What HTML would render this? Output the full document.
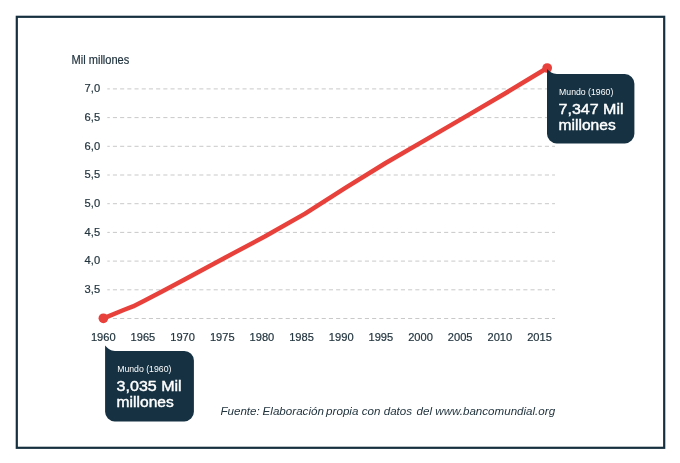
<!DOCTYPE html>
<html lang="es"><head><meta charset="utf-8"><title>Población mundial</title>
<style>
html,body{margin:0;padding:0;background:#fff;}
body{width:680px;height:463px;overflow:hidden;font-family:"Liberation Sans",sans-serif;}
svg{display:block;will-change:transform}
text{font-family:"Liberation Sans",sans-serif;}
.t{fill:#23353f;font-size:11.5px;stroke:#23353f;stroke-width:0.2px}
.w{fill:#fff}
</style></head><body>
<svg width="680" height="463" viewBox="0 0 680 463">
<rect x="0" y="0" width="680" height="463" fill="#fff"/>
<rect x="16.8" y="16.8" width="647.4" height="431" fill="none" stroke="#16303f" stroke-width="2.2"/>
<text class="t" style="font-size:12px" x="71.5" y="63.7" textLength="57.8" lengthAdjust="spacingAndGlyphs">Mil millones</text>
<line x1="107.3" y1="88.90" x2="555" y2="88.90" stroke="#c9c9c9" stroke-width="1" stroke-dasharray="4.1 3.1" stroke-dashoffset="1.6"/>
<text class="t" x="84.6" y="92.10" textLength="15.5" lengthAdjust="spacingAndGlyphs">7,0</text>
<line x1="107.3" y1="117.60" x2="555" y2="117.60" stroke="#c9c9c9" stroke-width="1" stroke-dasharray="4.1 3.1" stroke-dashoffset="1.6"/>
<text class="t" x="84.6" y="120.80" textLength="15.5" lengthAdjust="spacingAndGlyphs">6,5</text>
<line x1="107.3" y1="146.30" x2="555" y2="146.30" stroke="#c9c9c9" stroke-width="1" stroke-dasharray="4.1 3.1" stroke-dashoffset="1.6"/>
<text class="t" x="84.6" y="149.50" textLength="15.5" lengthAdjust="spacingAndGlyphs">6,0</text>
<line x1="107.3" y1="175.00" x2="555" y2="175.00" stroke="#c9c9c9" stroke-width="1" stroke-dasharray="4.1 3.1" stroke-dashoffset="1.6"/>
<text class="t" x="84.6" y="178.20" textLength="15.5" lengthAdjust="spacingAndGlyphs">5,5</text>
<line x1="107.3" y1="203.70" x2="555" y2="203.70" stroke="#c9c9c9" stroke-width="1" stroke-dasharray="4.1 3.1" stroke-dashoffset="1.6"/>
<text class="t" x="84.6" y="206.90" textLength="15.5" lengthAdjust="spacingAndGlyphs">5,0</text>
<line x1="107.3" y1="232.40" x2="555" y2="232.40" stroke="#c9c9c9" stroke-width="1" stroke-dasharray="4.1 3.1" stroke-dashoffset="1.6"/>
<text class="t" x="84.6" y="235.60" textLength="15.5" lengthAdjust="spacingAndGlyphs">4,5</text>
<line x1="107.3" y1="261.10" x2="555" y2="261.10" stroke="#c9c9c9" stroke-width="1" stroke-dasharray="4.1 3.1" stroke-dashoffset="1.6"/>
<text class="t" x="84.6" y="264.30" textLength="15.5" lengthAdjust="spacingAndGlyphs">4,0</text>
<line x1="107.3" y1="289.80" x2="555" y2="289.80" stroke="#c9c9c9" stroke-width="1" stroke-dasharray="4.1 3.1" stroke-dashoffset="1.6"/>
<text class="t" x="84.6" y="293.00" textLength="15.5" lengthAdjust="spacingAndGlyphs">3,5</text>
<line x1="112.9" y1="318.50" x2="555" y2="318.50" stroke="#c9c9c9" stroke-width="1" stroke-dasharray="4.1 3.1" stroke-dashoffset="0"/>
<text class="t" x="103.25" y="341.4" text-anchor="middle" textLength="24.7" lengthAdjust="spacingAndGlyphs">1960</text>
<text class="t" x="142.91" y="341.4" text-anchor="middle" textLength="24.7" lengthAdjust="spacingAndGlyphs">1965</text>
<text class="t" x="182.57" y="341.4" text-anchor="middle" textLength="24.7" lengthAdjust="spacingAndGlyphs">1970</text>
<text class="t" x="222.23" y="341.4" text-anchor="middle" textLength="24.7" lengthAdjust="spacingAndGlyphs">1975</text>
<text class="t" x="261.89" y="341.4" text-anchor="middle" textLength="24.7" lengthAdjust="spacingAndGlyphs">1980</text>
<text class="t" x="301.55" y="341.4" text-anchor="middle" textLength="24.7" lengthAdjust="spacingAndGlyphs">1985</text>
<text class="t" x="341.21" y="341.4" text-anchor="middle" textLength="24.7" lengthAdjust="spacingAndGlyphs">1990</text>
<text class="t" x="380.87" y="341.4" text-anchor="middle" textLength="24.7" lengthAdjust="spacingAndGlyphs">1995</text>
<text class="t" x="420.53" y="341.4" text-anchor="middle" textLength="24.7" lengthAdjust="spacingAndGlyphs">2000</text>
<text class="t" x="460.19" y="341.4" text-anchor="middle" textLength="24.7" lengthAdjust="spacingAndGlyphs">2005</text>
<text class="t" x="499.85" y="341.4" text-anchor="middle" textLength="24.7" lengthAdjust="spacingAndGlyphs">2010</text>
<text class="t" x="539.51" y="341.4" text-anchor="middle" textLength="24.7" lengthAdjust="spacingAndGlyphs">2015</text>
<path d="M103.4,318.3 L123.6,310.0 L133.0,306.4 L143.8,301.0 L163.9,290.5 L184.1,279.7 L224.5,257.9 L264.8,236.5 L305.1,213.6 L345.4,187.9 L385.7,163.0 L426.0,139.6 L466.4,116.1 L506.7,92.5 L547.2,68.0" fill="none" stroke="#e8413c" stroke-width="4.5" stroke-linejoin="round" stroke-linecap="round"/>
<circle cx="103.4" cy="318.3" r="4.85" fill="#e8413c"/>
<circle cx="547.2" cy="68.0" r="4.85" fill="#e8413c"/>
<path d="M105.1,345.5 C107.5,348.14 110.69999999999999,351.0 114.89999999999999,351.0 L184.29999999999998,351.0 A9.6,9.6 0 0 1 193.89999999999998,360.6 L193.89999999999998,411.79999999999995 A9.6,9.6 0 0 1 184.29999999999998,421.4 L114.69999999999999,421.4 A9.6,9.6 0 0 1 105.1,411.79999999999995 Z" fill="#153142"/>
<text class="w" x="117.20" y="371.70" font-size="8.4" textLength="54.2" lengthAdjust="spacingAndGlyphs">Mundo (1960)</text>
<text class="w" x="116.60" y="391.10" font-size="15.2" stroke="#fff" stroke-width="0.42" textLength="65.1" lengthAdjust="spacingAndGlyphs">3,035 Mil</text>
<text class="w" x="116.60" y="407.20" font-size="15.2" stroke="#fff" stroke-width="0.42" textLength="57.2" lengthAdjust="spacingAndGlyphs">millones</text>
<path d="M547.0,69.1 C549.4,71.50 552.6,74.1 556.8,74.1 L624.8,74.1 A9.6,9.6 0 0 1 634.4,83.69999999999999 L634.4,133.79999999999998 A9.6,9.6 0 0 1 624.8,143.39999999999998 L556.6,143.39999999999998 A9.6,9.6 0 0 1 547.0,133.79999999999998 Z" fill="#153142"/>
<text class="w" x="559.10" y="94.80" font-size="8.4" textLength="54.2" lengthAdjust="spacingAndGlyphs">Mundo (1960)</text>
<text class="w" x="558.50" y="114.20" font-size="15.2" stroke="#fff" stroke-width="0.42" textLength="65.1" lengthAdjust="spacingAndGlyphs">7,347 Mil</text>
<text class="w" x="558.50" y="130.30" font-size="15.2" stroke="#fff" stroke-width="0.42" textLength="57.2" lengthAdjust="spacingAndGlyphs">millones</text>
<text font-size="11" font-style="italic" fill="#23353f" y="414.6"><tspan x="220.4" textLength="39.4" lengthAdjust="spacingAndGlyphs">Fuente:</tspan> <tspan x="262.6" textLength="61.3" lengthAdjust="spacingAndGlyphs">Elaboración</tspan> <tspan x="326.1" textLength="32.3" lengthAdjust="spacingAndGlyphs">propia</tspan> <tspan x="361.8" textLength="18.7" lengthAdjust="spacingAndGlyphs">con</tspan> <tspan x="383.7" textLength="28.4" lengthAdjust="spacingAndGlyphs">datos</tspan> <tspan x="416.5" textLength="15.5" lengthAdjust="spacingAndGlyphs">del</tspan> <tspan x="435.3" textLength="119.8" lengthAdjust="spacingAndGlyphs">www.bancomundial.org</tspan> </text>
</svg>
</body></html>
